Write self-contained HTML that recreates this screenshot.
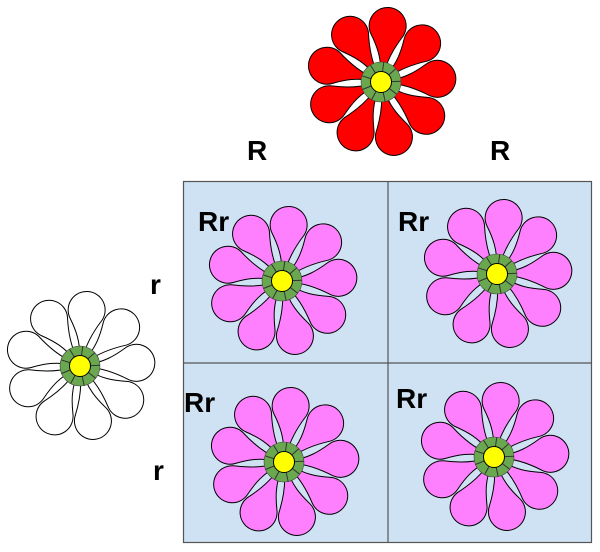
<!DOCTYPE html>
<html><head><style>
body{margin:0;background:#fff;}
svg{display:block;font-family:"Liberation Sans",sans-serif;font-weight:bold;}
</style></head><body>
<svg width="600" height="552" viewBox="0 0 600 552">
<defs>
<path id="p" d="M-1.5,-8 C-3,-24 -9,-35 -16.5,-46 A18.5,18.5 0 1 1 15.5,-48.5 C9,-37 3,-24 1.5,-8 Z" stroke="#000" stroke-width="1"/>
<path id="s" d="M0,-10 L0,-20" stroke="#333" stroke-width="1" fill="none"/>
<g id="fl">
<use href="#p" transform="rotate(8)"/>
<use href="#p" transform="rotate(48)"/>
<use href="#p" transform="rotate(88)"/>
<use href="#p" transform="rotate(128)"/>
<use href="#p" transform="rotate(168)"/>
<use href="#p" transform="rotate(208)"/>
<use href="#p" transform="rotate(248)"/>
<use href="#p" transform="rotate(288)"/>
<use href="#p" transform="rotate(328)"/>
<circle r="20" fill="#6aa84f" stroke="#444" stroke-width="0.6"/>
<use href="#s" transform="rotate(8)"/>
<use href="#s" transform="rotate(48)"/>
<use href="#s" transform="rotate(88)"/>
<use href="#s" transform="rotate(128)"/>
<use href="#s" transform="rotate(168)"/>
<use href="#s" transform="rotate(208)"/>
<use href="#s" transform="rotate(248)"/>
<use href="#s" transform="rotate(288)"/>
<use href="#s" transform="rotate(328)"/>
<circle r="10.5" fill="#ffff00" stroke="#000" stroke-width="1"/>
</g>
</defs>
<rect x="183.5" y="181.5" width="408" height="361" fill="#cfe2f3" stroke="#555" stroke-width="1.2"/>
<line x1="388" y1="181" x2="388" y2="543" stroke="#555" stroke-width="1.2"/>
<line x1="183" y1="363" x2="592" y2="363" stroke="#555" stroke-width="1.2"/>
<g fill="#ff0000"><use href="#fl" x="381" y="82"/></g>
<g fill="#ffffff"><use href="#fl" x="80" y="366"/></g>
<g fill="#ff80ff">
<use href="#fl" x="282" y="281"/>
<use href="#fl" x="497" y="274"/>
<use href="#fl" x="284" y="462"/>
<use href="#fl" x="494" y="457"/>
</g>
<g font-size="28" fill="#000">
<text x="247" y="160">R</text>
<text x="490" y="160">R</text>
<text x="150" y="294">r</text>
<text x="153" y="480">r</text>
<text x="198" y="231">Rr</text>
<text x="398" y="231">Rr</text>
<text x="184" y="412">Rr</text>
<text x="396" y="408">Rr</text>
</g>
</svg>
</body></html>
